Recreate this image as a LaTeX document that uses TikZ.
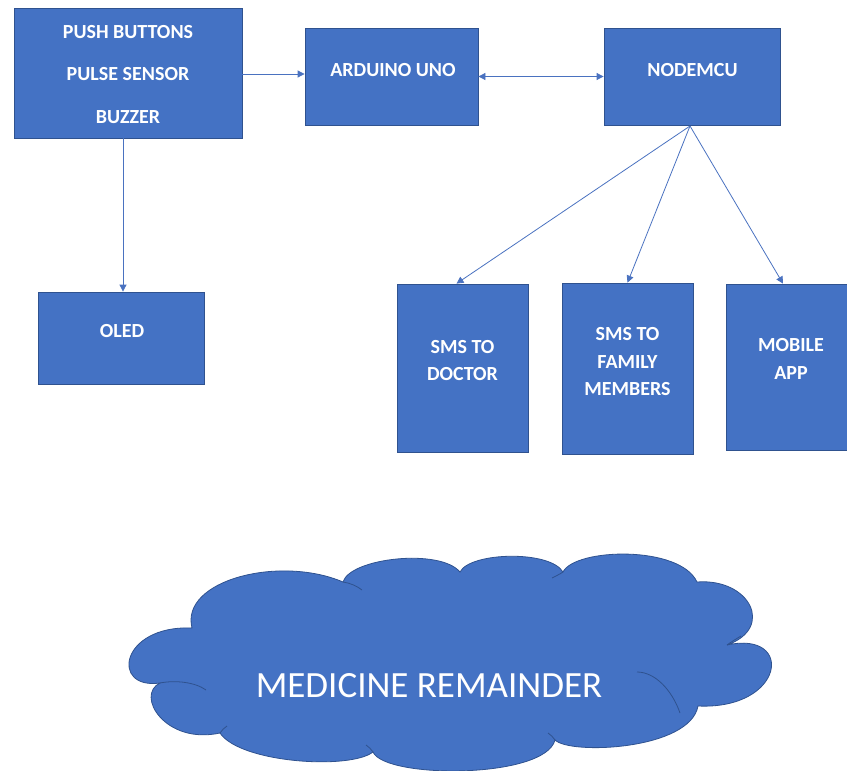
\documentclass[tikz,border=0pt]{standalone}
\usepackage{fontspec}
\setmainfont{Carlito}
\usetikzlibrary{arrows.meta,calc}
\definecolor{ofblue}{HTML}{4472C4}
\definecolor{ofedge}{HTML}{2F528F}
\definecolor{arrowc}{HTML}{4A72C0}
\tikzset{
  blockbox/.style={draw=ofedge, line width=0.8pt, fill=ofblue, inner sep=0pt},
  boxtext/.style={text=white, font=\fontsize{20}{27.5}\selectfont\bfseries, align=center, inner sep=0pt},
  conn/.style={draw=arrowc, line width=0.8pt, -{Triangle[width=7pt,length=7pt]}},
  conn2/.style={draw=arrowc, line width=0.8pt, {Triangle[width=7pt,length=7pt]}-{Triangle[width=7pt,length=7pt]}},
  cloudline/.style={draw=ofedge, line width=0.8pt},
}
\begin{document}
\begin{tikzpicture}[x=1pt,y=-1pt]
\useasboundingbox (0,0) rectangle (847,771);
% boxes
\node[blockbox, minimum width=228, minimum height=130] (inp) at (128,73) {};
\node[boxtext, font=\fontsize{20}{42.5}\selectfont\bfseries] (inpt) at (128,74.5) {PUSH BUTTONS\\PULSE SENSOR\\BUZZER};
\node[blockbox, minimum width=173, minimum height=97] (ard) at (391.5,76.5) {};
\node[boxtext] (ardt) at (393,70) {ARDUINO UNO};
\node[blockbox, minimum width=176, minimum height=97] (nm) at (692,76.5) {};
\node[boxtext] (nmt) at (692.5,70) {NODEMCU};
\node[blockbox, minimum width=166, minimum height=92] (oled) at (121.5,338) {};
\node[boxtext] (oledt) at (122,331.5) {OLED};
\node[blockbox, minimum width=131, minimum height=168] (doc) at (462.5,368) {};
\node[boxtext, font=\fontsize{20}{27}\selectfont\bfseries] (doct) at (462.5,361) {SMS TO\\DOCTOR};
\node[blockbox, minimum width=131, minimum height=171] (fam) at (627.5,368.5) {};
\node[boxtext] (famt) at (627.5,362) {SMS TO\\FAMILY\\MEMBERS};
\node[blockbox, minimum width=130, minimum height=166] (mob) at (791,367) {};
\node[boxtext, font=\fontsize{20}{28}\selectfont\bfseries] (mobt) at (791,359) {MOBILE\\APP};
% cloud
\path[cloudline, fill=ofblue]
  (160,683) .. controls (110,690) and (120,625) .. (192,628)
  .. controls (180,580) and (280,555) .. (343,582)
  .. controls (350,558) and (440,548) .. (460,572)
  .. controls (470,552) and (550,550) .. (563,572)
  .. controls (575,548) and (680,545) .. (697,582)
  .. controls (750,578) and (775,628) .. (727,645)
  .. controls (795,630) and (785,710) .. (698,706)
  .. controls (690,750) and (570,755) .. (555,740)
  .. controls (545,779) and (385,779) .. (373,752)
  .. controls (350,770) and (240,763) .. (220,733)
  .. controls (165,745) and (135,695) .. (160,683) -- cycle;
\draw[cloudline] (160,683) .. controls (175,680) and (195,682) .. (206,690);
\draw[cloudline] (343,582) .. controls (350,583) and (357,586) .. (362,590);
\draw[cloudline] (563,572) .. controls (560,574) and (556,576) .. (552,578);
\draw[cloudline] (727,645) .. controls (731,642) and (736,639) .. (741,636);
\draw[cloudline] (637,672) .. controls (655,672) and (672,690) .. (680,713);
\draw[cloudline] (555,740) .. controls (553,737) and (551,735) .. (548,733);
\draw[cloudline] (373,752) .. controls (371,749) and (369,747) .. (366,745);
\draw[cloudline] (220,733) .. controls (222,730) and (224,728) .. (227,726);
\node[text=white, font=\fontsize{37}{40}\selectfont, inner sep=0pt, anchor=base] (clt) at (429,697) {MEDICINE REMAINDER};
% connectors
\draw[conn] (inp.east |- 0,74) -- (ard.west |- 0,74);
\draw[conn2] (ard.east) -- (nm.west);
\draw[conn] (123,0 |- inp.south) -- (123,0 |- oled.north);
\coordinate (nmb) at (690,126);
\draw[conn] (nmb) -- ($(doc.north)+(-6,0)$);
\draw[conn] (nmb) -- (fam.north);
\draw[conn] (nmb) -- (783,0 |- mob.north);
\end{tikzpicture}
\end{document}
